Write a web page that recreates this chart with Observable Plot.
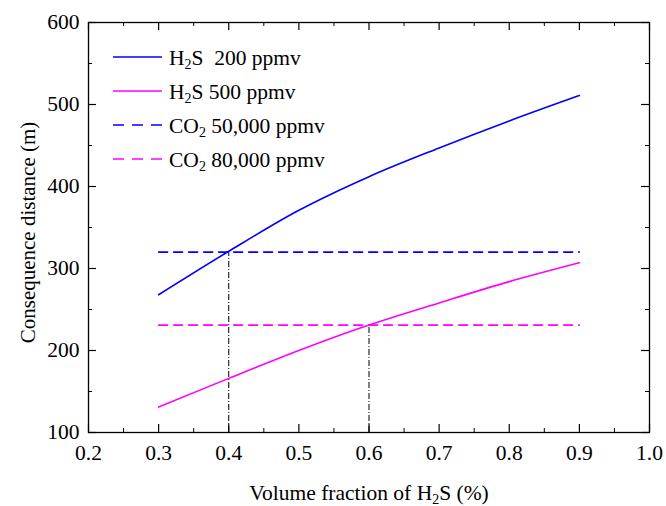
<!DOCTYPE html>
<html>
<head>
<meta charset="utf-8">
<script src="https://cdn.jsdelivr.net/npm/d3@7"></script>
<script src="https://cdn.jsdelivr.net/npm/@observablehq/plot@0.6"></script>
<style>
  html, body { margin: 0; padding: 0; background: #fff; }
  svg text { white-space: pre; }
</style>
</head>
<body>
<div id="chart"></div>
<script>
// ---- data ----
const fraction = [0.3, 0.4, 0.5, 0.6, 0.7, 0.8, 0.9];
const h2s200 = [268, 321, 371, 412, 447, 480, 511];
const h2s500 = [131, 166, 200, 231, 258, 284, 307];
const co2Levels = [320, 231];            // CO2 50,000 / 80,000 ppmv distances
const crossX = [0.4, 0.6];              // intersections
const crossY = [320, 231];
const xTicks = [0.2, 0.3, 0.4, 0.5, 0.6, 0.7, 0.8, 0.9, 1.0];
const yTicks = [100, 200, 300, 400, 500, 600];
const xMinor = [0.25, 0.35, 0.45, 0.55, 0.65, 0.75, 0.85, 0.95];
const yMinor = [150, 250, 350, 450, 550];
const seriesNames = ["H2S  200 ppmv", "H2S 500 ppmv", "CO2 50,000 ppmv", "CO2 80,000 ppmv"];
const xLabel = "Volume fraction of H2S (%)";
const yLabel = "Consequence distance (m)";

const blue = "#0000ff", magenta = "#ff00ff";
const W = 666, H = 506, mL = 88, mR = 17, mT = 22, mB = 74;
const iw = W - mL - mR, ih = H - mT - mB;
const font = "Liberation Serif, Times New Roman, serif";
const fs = 21.5;

const solid = [
  ...fraction.map((x, i) => ({x, y: h2s200[i], s: 0})),
  ...fraction.map((x, i) => ({x, y: h2s500[i], s: 1}))
];
const dashed = co2Levels.flatMap((v, k) => [
  {x: fraction[0], y: v, s: k}, {x: fraction[fraction.length - 1], y: v, s: k}
]);
const drops = crossX.map((x, i) => ({x, y1: 100, y2: crossY[i]}));

const plot = Plot.plot({
  width: W, height: H,
  marginLeft: mL, marginRight: mR, marginTop: mT, marginBottom: mB,
  style: {fontFamily: font, fontSize: fs + "px", color: "#000", background: "#fff"},
  x: {domain: [0.2, 1.0]},
  y: {domain: [100, 600]},
  marks: [
    Plot.frame({stroke: "#000", strokeWidth: 1.3}),
    // inward ticks, bottom & top
    Plot.tickX(xTicks, {x: d => d, insetTop: ih - 8, stroke: "#000", strokeWidth: 1.2}),
    Plot.tickX(xTicks, {x: d => d, insetBottom: ih - 8, stroke: "#000", strokeWidth: 1.2}),
    Plot.tickX(xMinor, {x: d => d, insetTop: ih - 4, stroke: "#000", strokeWidth: 1}),
    Plot.tickX(xMinor, {x: d => d, insetBottom: ih - 4, stroke: "#000", strokeWidth: 1}),
    Plot.tickY(yTicks, {y: d => d, insetRight: iw - 8, stroke: "#000", strokeWidth: 1.2}),
    Plot.tickY(yTicks, {y: d => d, insetLeft: iw - 8, stroke: "#000", strokeWidth: 1.2}),
    Plot.tickY(yMinor, {y: d => d, insetRight: iw - 4, stroke: "#000", strokeWidth: 1}),
    Plot.tickY(yMinor, {y: d => d, insetLeft: iw - 4, stroke: "#000", strokeWidth: 1}),
    Plot.axisX({ticks: xTicks, tickSize: 0, tickPadding: 12, tickFormat: d3.format(".1f"), label: null, fontSize: fs}),
    Plot.axisY({ticks: yTicks, tickSize: 0, tickPadding: 9, label: null, fontSize: fs}),
    // drop lines
    Plot.ruleX(drops, {x: "x", y1: "y1", y2: "y2", stroke: "#000", strokeWidth: 1, strokeDasharray: "6,2,1,2"}),
    // CO2 thresholds
    Plot.line(dashed, {x: "x", y: "y", z: "s", stroke: d => [blue, magenta][d.s], strokeWidth: 1.6, strokeDasharray: "9,6"}),
    // H2S curves
    Plot.line(solid, {x: "x", y: "y", z: "s", stroke: d => [blue, magenta][d.s], strokeWidth: 1.6, curve: "monotone-x"}),
    // axis labels
    Plot.text([xLabel], {text: d => d, frameAnchor: "bottom", textAnchor: "middle", dy: 67, fontSize: fs, lineAnchor: "bottom", fill: "#000"}),
    Plot.text([yLabel], {text: d => d, frameAnchor: "left", textAnchor: "middle", rotate: -90, dx: -60, dy: 5, fontSize: 21, fill: "#000"})
  ]
});

// legend
const svg = d3.select(plot);
const lg = svg.append("g").attr("font-family", font).attr("font-size", fs).attr("text-anchor", "start");
const styles = [
  {c: blue, d: null}, {c: magenta, d: null}, {c: blue, d: "11,8"}, {c: magenta, d: "11,8"}
];
seriesNames.forEach((name, i) => {
  const yy = 57 + i * 34;
  lg.append("line").attr("x1", 113).attr("x2", 162).attr("y1", yy).attr("y2", yy)
    .attr("stroke", styles[i].c).attr("stroke-width", 1.6)
    .attr("stroke-dasharray", styles[i].d);
  lg.append("text").attr("x", 169).attr("y", yy).attr("dy", "0.35em").attr("fill", "#000").text(name);
});

// subscripts for chemical formulas
svg.selectAll("text").each(function() {
  const el = d3.select(this);
  if (el.selectAll("tspan").size() > 0) {
    el.selectAll("tspan").each(function() { subscript(d3.select(this)); });
  } else subscript(el);
});
function subscript(el) {
  const t = el.text();
  const m = t.match(/^(.*?)(H|CO)2(.*)$/);
  if (!m) return;
  el.text(null);
  el.append("tspan").text(m[1] + m[2]);
  el.append("tspan").attr("baseline-shift", "-30%").attr("font-size", "0.65em").text("2");
  el.append("tspan").text(m[3]);
}

document.getElementById("chart").appendChild(plot);
</script>
</body>
</html>
